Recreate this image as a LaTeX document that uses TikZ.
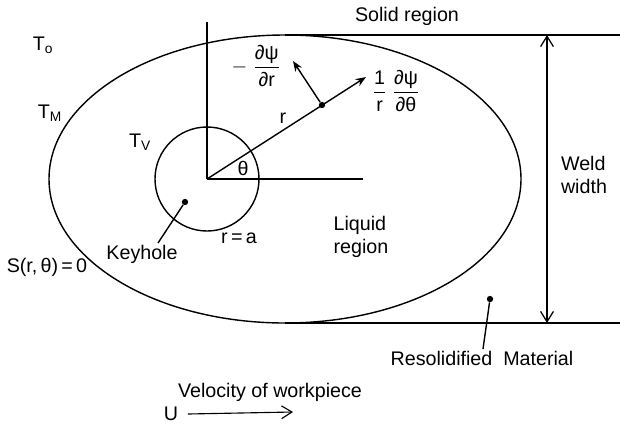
\documentclass[tikz,border=0pt]{standalone}
\usepackage{amsmath}
\usepackage{fontspec}
\setmainfont{Liberation Sans}
\usetikzlibrary{arrows.meta}
\tikzset{
  weld line/.style={black,line width=1pt},
  weld arrow/.style={black,line width=.9pt,-{Straight Barb[length=2.6mm,width=3.2mm]}},
  weld vec/.style={black,line width=1pt,-{Stealth[length=2.6mm,width=2mm]}},
  weld dot/.style={circle,fill=black,inner sep=0pt,minimum size=4.5pt},
  weld label/.style={font=\fontsize{14}{16.5}\selectfont,inner sep=1pt}
}
\newcommand{\wt}[1]{\text{#1}}

\begin{document}
\begin{tikzpicture}[x=0.025cm,y=-0.025cm]
  \useasboundingbox (0,0) rectangle (620,424);
  % pool boundary and solid edges
  \draw[weld line] (285,179) ellipse [x radius=236,y radius=144];
  \coordinate (topL) at (285,35);  \coordinate (topR) at (620,35);
  \coordinate (botL) at (285,323); \coordinate (botR) at (620,323);
  \draw[weld line] (topL)--(topR);
  \draw[weld line] (botL)--(botR);
  % keyhole and polar frame
  \coordinate (o) at (207,179);
  \coordinate (up) at (207,22);
  \coordinate (ax) at (363,179);
  \draw[weld line] (o) circle [radius=52];
  \draw[weld line] (o)--(up);
  \draw[weld line] (o)--(ax);
  \node[weld dot] (p) at (322,105) {};
  \coordinate (vt) at (366,77);
  \coordinate (vr) at (293,61);
  \draw[weld vec] (o)--(vt);
  \draw[weld vec] (p)--(vr);
  % weld width
  \coordinate (wt) at (547,35);
  \coordinate (wb) at (547,323);
  \draw[weld arrow] (547,179)--(wt);
  \draw[weld arrow] (547,179)--(wb);
  % labels
  \node[weld label] (solid) at (407,16) {Solid region};
  \node[weld label] (To) at (43,45) {T\textsubscript{o}};
  \node[weld label] (TM) at (50,113) {T\textsubscript{M}};
  \node[weld label] (TV) at (140,142) {T\textsubscript{V}};
  \node[weld label] (dr) at (256,66) {$-\;\dfrac{\wt{∂ψ}}{\wt{∂r}}$};
  \node[weld label] (rlab) at (283,118) {r};
  \node[weld label] (th) at (243,168) {θ};
  \node[weld label] (dth) at (396,91) {$\dfrac{\wt{1}}{\wt{r}}\;\dfrac{\wt{∂ψ}}{\wt{∂θ}}$};
  \node[weld label,align=left] (width) at (584,175) {Weld\\width};
  \node[weld label,align=left] (liquid) at (361,237) {Liquid\\region};
  \node[weld label] (ra) at (239,238) {r\,=\,a};
  \node[weld label] (key) at (142,254) {Keyhole};
  \node[weld dot] (kd) at (185,202) {};
  \draw[weld line] (158,243)--(kd);
  \node[weld label] (S) at (47,267) {S(r,\,θ)\,=\,0};
  \node[weld label] (resol) at (482,358) {Resolidified\ \ Material};
  \node[weld dot] (rd) at (490,299) {};
  \draw[weld line] (resol.north)++(1,0) coordinate (rn) (rn)--(rd);
  \node[weld label] (vel) at (270,392) {Velocity of workpiece};
  \node[weld label] (U) at (171,414) {U};
  \coordinate (ue) at (293,412);
  \draw[weld arrow,line width=.8pt] (U.east)++(8,0)--(ue);
\end{tikzpicture}
\end{document}
